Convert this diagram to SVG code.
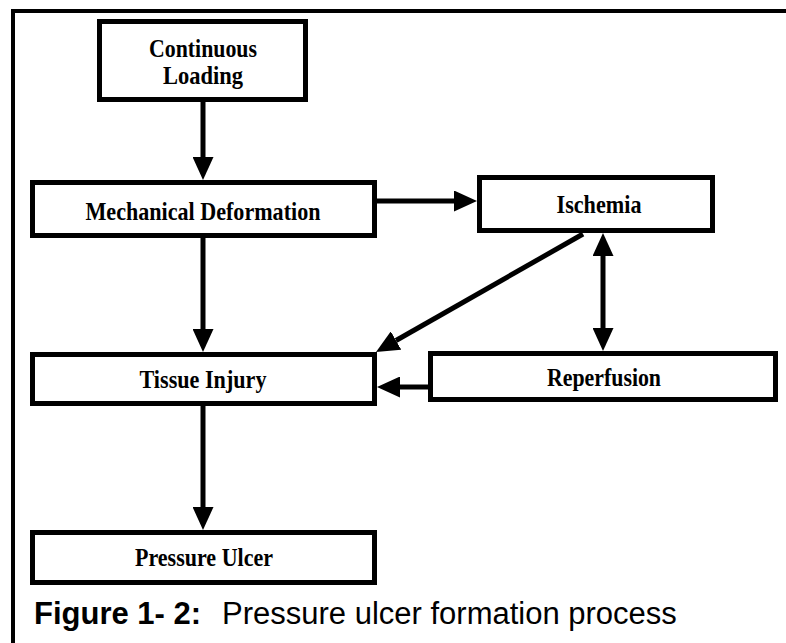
<svg xmlns="http://www.w3.org/2000/svg" width="786" height="643" viewBox="0 0 786 643">
<style>
.box{fill:#fff;stroke:#000;stroke-width:5}
.lbl{font-family:"Liberation Serif","Times New Roman",serif;font-weight:bold;font-size:26px;fill:#000;text-anchor:middle}
.con{stroke:#000;stroke-width:5;fill:none}
.cap{font-family:"Liberation Sans",Arial,sans-serif;font-size:31px;fill:#000}
</style>
<defs>
<marker id="ah" markerUnits="userSpaceOnUse" markerWidth="23" markerHeight="21" refX="0" refY="10.5" orient="auto-start-reverse" viewBox="0 0 23 21">
<path d="M0,0 L23,10.5 L0,21 z" fill="#000"/>
</marker>
</defs>
<rect x="0" y="0" width="786" height="643" fill="#fff"/>
<g id="frame">
<line x1="11" y1="11" x2="786" y2="11" stroke="#000" stroke-width="4"/>
<line x1="13" y1="9" x2="13" y2="643" stroke="#000" stroke-width="4"/>
</g>
<g id="connectors">
<line class="con" x1="203" y1="102" x2="203" y2="157" marker-end="url(#ah)"/>
<line class="con" x1="377" y1="201" x2="454" y2="201" marker-end="url(#ah)"/>
<line class="con" x1="583" y1="234" x2="396" y2="340.5" marker-end="url(#ah)"/>
<line class="con" x1="603" y1="256" x2="603" y2="328" marker-start="url(#ah)" marker-end="url(#ah)"/>
<line class="con" x1="428" y1="387" x2="400" y2="387" marker-end="url(#ah)"/>
<line class="con" x1="203" y1="238" x2="203" y2="329" marker-end="url(#ah)"/>
<line class="con" x1="203" y1="406" x2="203" y2="507" marker-end="url(#ah)"/>
</g>
<g id="continuous-loading">
<rect class="box" x="99.5" y="21.5" width="206" height="78"/>
<text class="lbl" x="203" y="57" textLength="108" lengthAdjust="spacingAndGlyphs">Continuous</text>
<text class="lbl" x="203" y="84" textLength="80" lengthAdjust="spacingAndGlyphs">Loading</text>
</g>
<g id="mechanical-deformation">
<rect class="box" x="32.5" y="182.5" width="342" height="53"/>
<text class="lbl" x="203" y="220" textLength="235" lengthAdjust="spacingAndGlyphs">Mechanical Deformation</text>
</g>
<g id="ischemia">
<rect class="box" x="479.5" y="177.5" width="233" height="53"/>
<text class="lbl" x="599" y="213" textLength="85" lengthAdjust="spacingAndGlyphs">Ischemia</text>
</g>
<g id="reperfusion">
<rect class="box" x="430.5" y="353.5" width="345" height="46"/>
<text class="lbl" x="604" y="386" textLength="114" lengthAdjust="spacingAndGlyphs">Reperfusion</text>
</g>
<g id="tissue-injury">
<rect class="box" x="32.5" y="354.5" width="342" height="49"/>
<text class="lbl" x="203" y="388" textLength="127" lengthAdjust="spacingAndGlyphs">Tissue Injury</text>
</g>
<g id="pressure-ulcer">
<rect class="box" x="32.5" y="532.5" width="342" height="50"/>
<text class="lbl" x="204" y="566" textLength="138" lengthAdjust="spacingAndGlyphs">Pressure Ulcer</text>
</g>
<g id="caption">
<text class="cap" x="34" y="624" font-weight="bold" font-size="30">Figure 1- 2:</text>
<text class="cap" x="222" y="624">Pressure ulcer formation process</text>
</g>
</svg>
